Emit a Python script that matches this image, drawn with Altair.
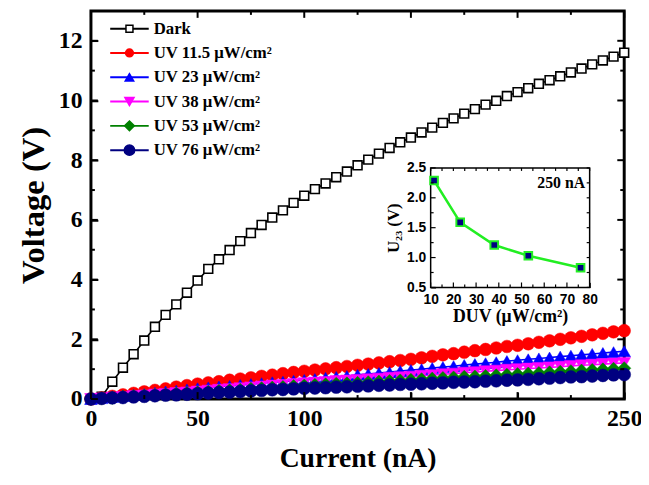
import altair as alt
import pandas as pd

SERIF = "Liberation Serif"
SANS = "Liberation Sans"

# ---------------- data ----------------
CURRENT = [0, 5, 10, 15, 20, 25, 30, 35, 40, 45, 50, 55, 60, 65, 70, 75, 80, 85, 90, 95,
           100, 105, 110, 115, 120, 125, 130, 135, 140, 145, 150, 155, 160, 165, 170, 175,
           180, 185, 190, 195, 200, 205, 210, 215, 220, 225, 230, 235, 240, 245, 250]

SERIES = ["Dark", "UV 11.5 μW/cm²", "UV 23 μW/cm²", "UV 38 μW/cm²", "UV 53 μW/cm²", "UV 76 μW/cm²"]

DARK = [0.00, 0.08, 0.58, 1.05, 1.50, 1.96, 2.42, 2.82, 3.17, 3.56, 3.97, 4.36, 4.68, 4.99,
        5.29, 5.56, 5.83, 6.08, 6.32, 6.57, 6.81, 7.03, 7.22, 7.43, 7.62, 7.83, 8.02, 8.22,
        8.41, 8.60, 8.76, 8.93, 9.09, 9.25, 9.40, 9.56, 9.71, 9.86, 9.99, 10.15, 10.28,
        10.41, 10.56, 10.68, 10.81, 10.94, 11.07, 11.21, 11.34, 11.47, 11.60]
UV115 = [0.00, 0.04, 0.09, 0.14, 0.19, 0.24, 0.29, 0.34, 0.40, 0.45, 0.50, 0.54, 0.58, 0.63,
         0.67, 0.71, 0.76, 0.80, 0.85, 0.89, 0.93, 0.97, 1.01, 1.05, 1.09, 1.13, 1.17, 1.21,
         1.25, 1.29, 1.33, 1.38, 1.43, 1.48, 1.52, 1.57, 1.62, 1.66, 1.71, 1.76, 1.80, 1.85,
         1.90, 1.95, 2.00, 2.05, 2.10, 2.15, 2.20, 2.25, 2.29]
UV23 = [0.00, 0.03, 0.07, 0.10, 0.14, 0.17, 0.21, 0.25, 0.28, 0.32, 0.36, 0.39, 0.42, 0.44,
        0.47, 0.50, 0.53, 0.56, 0.58, 0.61, 0.64, 0.67, 0.71, 0.74, 0.77, 0.81, 0.84, 0.87,
        0.90, 0.94, 0.97, 1.00, 1.04, 1.07, 1.10, 1.14, 1.17, 1.20, 1.23, 1.27, 1.30, 1.33,
        1.36, 1.39, 1.42, 1.45, 1.48, 1.51, 1.54, 1.57, 1.60]
UV38 = [0.00, 0.02, 0.05, 0.07, 0.10, 0.12, 0.15, 0.17, 0.20, 0.22, 0.25, 0.28, 0.31, 0.33,
        0.36, 0.39, 0.42, 0.45, 0.47, 0.50, 0.53, 0.55, 0.57, 0.60, 0.62, 0.64, 0.66, 0.68,
        0.71, 0.73, 0.75, 0.78, 0.80, 0.83, 0.85, 0.88, 0.90, 0.93, 0.95, 0.98, 1.00, 1.02,
        1.04, 1.06, 1.08, 1.11, 1.13, 1.15, 1.17, 1.19, 1.21]
UV53 = [0.00, 0.02, 0.04, 0.07, 0.09, 0.11, 0.13, 0.15, 0.18, 0.20, 0.22, 0.24, 0.27, 0.29,
        0.31, 0.34, 0.36, 0.38, 0.40, 0.43, 0.45, 0.47, 0.49, 0.51, 0.52, 0.54, 0.56, 0.58,
        0.60, 0.62, 0.64, 0.66, 0.68, 0.70, 0.72, 0.74, 0.75, 0.77, 0.79, 0.81, 0.83, 0.85,
        0.87, 0.89, 0.91, 0.93, 0.95, 0.97, 0.99, 1.01, 1.03]
UV76 = [0.00, 0.02, 0.04, 0.05, 0.07, 0.09, 0.11, 0.13, 0.14, 0.16, 0.18, 0.20, 0.22, 0.23,
        0.25, 0.27, 0.29, 0.31, 0.32, 0.34, 0.36, 0.37, 0.38, 0.40, 0.41, 0.43, 0.44, 0.46,
        0.47, 0.49, 0.50, 0.51, 0.53, 0.54, 0.56, 0.57, 0.58, 0.60, 0.61, 0.63, 0.64, 0.66,
        0.68, 0.70, 0.72, 0.74, 0.75, 0.77, 0.79, 0.81, 0.82]

# inset
DUV = [11.5, 23, 38, 53, 76]
U23 = [2.29, 1.59, 1.21, 1.03, 0.83]
INSET_NOTE = "250 nA"

X_TICKS = [0, 50, 100, 150, 200, 250]
X_MINOR = [25, 75, 125, 175, 225]
Y_TICKS = [0, 2, 4, 6, 8, 10, 12]
Y_MINOR = [1, 3, 5, 7, 9, 11]
IX_TICKS = [10, 20, 30, 40, 50, 60, 70, 80]
IX_MINOR = [15, 25, 35, 45, 55, 65, 75]
IY_TICKS = [0.5, 1.0, 1.5, 2.0, 2.5]
IY_MINOR = [0.75, 1.25, 1.75, 2.25]

# ---------------- layout / styles ----------------
W, H = 540, 393
INSET_X_RANGE = [344, 505]
INSET_Y_RANGE = [280, 159]
LEGEND_ROWS = [18, 141]          # pixel span of the legend rows
LEGEND_LINE = [19.5, 58.5]       # pixel span of the legend line sample
LEGEND_TEXT_X = 63.5

LINE_COLORS = ["#000000", "#ff0000", "#0000ff", "#ff00ff", "#008000", "#000080"]
FILLS = ["#ffffff", "#ff0000", "#0000ff", "#ff00ff", "#008000", "#000080"]
SHAPES = ["square", "circle", "triangle-up", "triangle-down", "diamond", "circle"]
MARKER_SIZES = [80, 165, 165, 165, 180, 170]
LEGEND_SIZES = [50, 110, 120, 120, 125, 115]

rows = []
for name, vals in zip(SERIES, [DARK, UV115, UV23, UV38, UV53, UV76]):
    for c, v in zip(CURRENT, vals):
        rows.append({"current": c, "voltage": v, "series": name})
df = pd.DataFrame(rows)

X_SCALE = alt.Scale(domain=[0, 250], nice=False, zero=False)
Y_SCALE = alt.Scale(domain=[0, 13], nice=False, zero=False)
COLOR_SCALE = alt.Scale(domain=SERIES, range=LINE_COLORS)

X_MAIN_AXIS = alt.Axis(orient="bottom", values=X_TICKS, format="d", offset=-7, tickSize=7,
                       tickWidth=2, tickColor="black", domain=False, grid=False,
                       labelFont=SERIF, labelFontSize=24, labelFontWeight="bold",
                       labelColor="black", labelPadding=8, labelFlush=False, labelOverlap=False,
                       title="Current (nA)", titleFont=SERIF, titleFontSize=28,
                       titleFontWeight="bold", titleColor="black", titlePadding=14)
Y_MAIN_AXIS = alt.Axis(orient="left", values=Y_TICKS, format="d", offset=-7, tickSize=7,
                       tickWidth=2, tickColor="black", domain=False, grid=False,
                       labelFont=SERIF, labelFontSize=24, labelFontWeight="bold",
                       labelColor="black", labelPadding=9, labelFlush=False, labelOverlap=False,
                       title="Voltage (V)", titleFont=SERIF, titleFontSize=33,
                       titleFontWeight="bold", titleColor="black", titlePadding=8)

base = alt.Chart(df)

lines = base.mark_line(strokeWidth=1.6).encode(
    x=alt.X("current:Q", scale=X_SCALE, axis=X_MAIN_AXIS),
    y=alt.Y("voltage:Q", scale=Y_SCALE, axis=Y_MAIN_AXIS),
    color=alt.Color("series:N", scale=COLOR_SCALE, legend=None),
    order="current:Q",
)

point_layers = []
for k, name in enumerate(SERIES):
    if k == 0:
        mk = dict(filled=True, fill="#ffffff", stroke="#000000", strokeWidth=1.6)
    else:
        mk = dict(filled=True, fill=FILLS[k], stroke=FILLS[k], strokeWidth=0.5)
    point_layers.append(
        base.transform_filter(alt.datum.series == name).mark_point(
            shape=SHAPES[k], size=MARKER_SIZES[k], opacity=1, **mk
        ).encode(
            x=alt.X("current:Q", scale=X_SCALE, axis=None),
            y=alt.Y("voltage:Q", scale=Y_SCALE, axis=None),
        )
    )


def tick_rules(values, channel, scale, start, end, width):
    d = pd.DataFrame({"v": values})
    if channel == "y":
        enc = dict(y=alt.Y("v:Q", scale=scale, axis=None), x=alt.value(start), x2=alt.value(end))
    else:
        enc = dict(x=alt.X("v:Q", scale=scale, axis=None), y=alt.value(start), y2=alt.value(end))
    return alt.Chart(d).mark_rule(color="black", strokeWidth=width).encode(**enc)


main_ticks = [
    tick_rules(Y_TICKS, "y", Y_SCALE, 0, 7, 2),
    tick_rules(Y_MINOR, "y", Y_SCALE, 0, 4, 2),
    tick_rules(Y_TICKS, "y", Y_SCALE, W, W - 7, 2),
    tick_rules(Y_MINOR, "y", Y_SCALE, W, W - 4, 2),
    tick_rules(X_TICKS, "x", X_SCALE, H, H - 7, 2),
    tick_rules(X_MINOR, "x", X_SCALE, H, H - 4, 2),
    tick_rules(X_TICKS, "x", X_SCALE, 0, 7, 2),
    tick_rules(X_MINOR, "x", X_SCALE, 0, 4, 2),
]

main = alt.layer(lines, *point_layers, *main_ticks).resolve_axis(x="independent", y="independent")

# ---------------- legend (drawn from the series list) ----------------
leg_df = pd.DataFrame({"series": SERIES})
LEG_Y = alt.Scale(type="point", domain=SERIES, range=LEGEND_ROWS, padding=0)

leg_lines = alt.Chart(leg_df).mark_rule(strokeWidth=2).encode(
    x=alt.value(LEGEND_LINE[0]), x2=alt.value(LEGEND_LINE[1]),
    y=alt.Y("series:N", scale=LEG_Y, axis=None),
    color=alt.Color("series:N", scale=COLOR_SCALE, legend=None),
)
leg_pts = alt.Chart(leg_df).mark_point(filled=True, strokeWidth=1.5, opacity=1).encode(
    x=alt.value((LEGEND_LINE[0] + LEGEND_LINE[1]) / 2),
    y=alt.Y("series:N", scale=LEG_Y, axis=None),
    shape=alt.Shape("series:N", scale=alt.Scale(domain=SERIES, range=SHAPES), legend=None),
    fill=alt.Fill("series:N", scale=alt.Scale(domain=SERIES, range=FILLS), legend=None),
    stroke=alt.Stroke("series:N", scale=alt.Scale(domain=SERIES, range=LINE_COLORS), legend=None),
    size=alt.Size("series:O", scale=alt.Scale(domain=SERIES, range=LEGEND_SIZES), legend=None),
)
leg_text = alt.Chart(leg_df).mark_text(align="left", baseline="middle", font=SERIF, fontSize=17,
                                       fontWeight="bold", color="black").encode(
    x=alt.value(LEGEND_TEXT_X),
    y=alt.Y("series:N", scale=LEG_Y, axis=None),
    text="series:N",
)
legend = alt.layer(leg_lines, leg_pts, leg_text)

# ---------------- inset ----------------
IX = alt.Scale(domain=[IX_TICKS[0], IX_TICKS[-1]], range=INSET_X_RANGE, nice=False, zero=False)
IY = alt.Scale(domain=[IY_TICKS[0], IY_TICKS[-1]], range=INSET_Y_RANGE, nice=False, zero=False)
INSET_GREEN = "#22ee22"

inset_df = pd.DataFrame({"duv": DUV, "u23": U23})
frame_df = pd.DataFrame({"x0": [IX_TICKS[0]], "x1": [IX_TICKS[-1]],
                         "y0": [IY_TICKS[0]], "y1": [IY_TICKS[-1]]})

IX_AXIS = alt.Axis(orient="bottom", offset=-(H - INSET_Y_RANGE[0]) - 5, values=IX_TICKS,
                   format="d", tickSize=5, tickWidth=1.2, tickColor="black", domain=False,
                   grid=False, labelFont=SANS, labelFontSize=14, labelFontWeight="bold",
                   labelColor="black", labelPadding=5, labelFlush=False, labelOverlap=False,
                   title="DUV (μW/cm²)", titleFont=SERIF, titleFontSize=18,
                   titleFontWeight="bold", titleColor="black", titlePadding=2)
IY_AXIS = alt.Axis(orient="left", offset=-INSET_X_RANGE[0] - 5, values=IY_TICKS, format=".1f",
                   tickSize=5, tickWidth=1.2, tickColor="black", domain=False,
                   grid=False, labelFont=SANS, labelFontSize=14, labelFontWeight="bold",
                   labelColor="black", labelPadding=5, labelFlush=False, labelOverlap=False,
                   title="U₂₃ (V)", titleFont=SERIF, titleFontSize=17,
                   titleFontWeight="bold", titleColor="black", titlePadding=4)

frame = alt.Chart(frame_df).mark_rect(fill="white", stroke="black", strokeWidth=1.5).encode(
    x=alt.X("x0:Q", scale=IX, axis=IX_AXIS),
    x2="x1:Q",
    y=alt.Y("y0:Q", scale=IY, axis=IY_AXIS),
    y2="y1:Q",
)
iline = alt.Chart(inset_df).mark_line(color=INSET_GREEN, strokeWidth=2.5).encode(
    x=alt.X("duv:Q", scale=IX, axis=None),
    y=alt.Y("u23:Q", scale=IY, axis=None),
)
ipts = alt.Chart(inset_df).mark_point(shape="square", size=60, filled=True, fill="#000080",
                                      stroke=INSET_GREEN, strokeWidth=2, opacity=1).encode(
    x=alt.X("duv:Q", scale=IX, axis=None),
    y=alt.Y("u23:Q", scale=IY, axis=None),
)
note_df = pd.DataFrame({"x": [78], "y": [2.24], "t": [INSET_NOTE]})
note = alt.Chart(note_df).mark_text(align="right", baseline="middle", font=SERIF, fontSize=16,
                                    fontWeight="bold", color="black").encode(
    x=alt.X("x:Q", scale=IX, axis=None),
    y=alt.Y("y:Q", scale=IY, axis=None),
    text="t:N",
)
x0, x1 = INSET_X_RANGE
yb, yt = INSET_Y_RANGE
inset_ticks = [
    tick_rules(IY_TICKS, "y", IY, x0, x0 + 5, 1.2),
    tick_rules(IY_MINOR, "y", IY, x0, x0 + 3, 1.2),
    tick_rules(IY_TICKS + IY_MINOR, "y", IY, x1, x1 - 3, 1.2),
    tick_rules(IX_TICKS, "x", IX, yb, yb - 5, 1.2),
    tick_rules(IX_MINOR, "x", IX, yb, yb - 3, 1.2),
    tick_rules(IX_TICKS + IX_MINOR, "x", IX, yt, yt + 3, 1.2),
]

inset = alt.layer(frame, iline, ipts, note, *inset_ticks).resolve_axis(x="independent", y="independent")

chart = alt.layer(main, inset, legend).resolve_scale(x="independent", y="independent").properties(
    width=W, height=H,
    autosize=alt.AutoSizeParams(type="none"),
    padding={"left": 84, "top": 0, "right": 17, "bottom": 76},
).configure_view(stroke="black", strokeWidth=3)

chart.save("out.html", embed_options={"renderer": "svg", "actions": False})
